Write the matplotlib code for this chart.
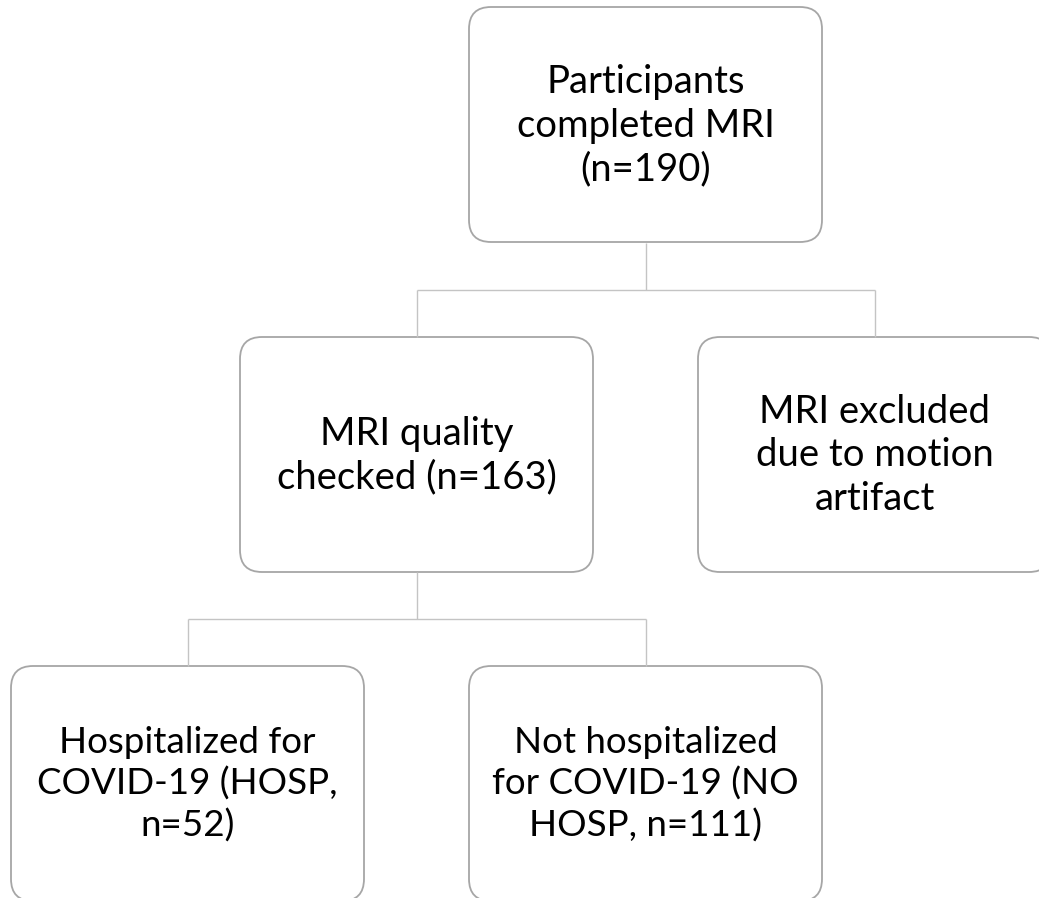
import matplotlib.pyplot as plt
from matplotlib.patches import FancyBboxPatch

# box labels, top to bottom
top_label = "Participants\ncompleted MRI\n(n=190)"
mid_labels = ["MRI quality\nchecked (n=163)",
              "MRI excluded\ndue to motion\nartifact"]
bottom_labels = ["Hospitalized for\nCOVID-19 (HOSP,\nn=52)",
                 "Not hospitalized\nfor COVID-19 (NO\nHOSP, n=111)"]

W, H = 1039, 898
BOX_W, BOX_H = 353, 235
EDGE = "#a6a6a6"
LINE = "#c4c4c4"

fig = plt.figure(figsize=(W / 100, H / 100), dpi=100)
ax = fig.add_axes([0, 0, 1, 1])
ax.set_xlim(0, W)
ax.set_ylim(H, 0)
ax.axis("off")


def box(cx, top, label, size=27):
    p = FancyBboxPatch((cx - BOX_W / 2, top), BOX_W, BOX_H,
                       boxstyle="round,pad=0,rounding_size=22",
                       facecolor="white", edgecolor=EDGE, linewidth=1.3)
    ax.add_patch(p)
    ax.text(cx, top + BOX_H / 2 + 1, label, ha="center", va="center",
            fontsize=size, family="Lato", linespacing=1.27, color="black")


def line(xs, ys):
    ax.plot(xs, ys, color=LINE, linewidth=1.0, solid_capstyle="butt")


# level 1
c1 = 645.5
box(c1, 7, top_label, 27.5)

# level 2
mid_x = [416.5, 874.5]
line([c1, c1], [243, 290])
line([mid_x[0], mid_x[1]], [290, 290])
for x, lab in zip(mid_x, mid_labels):
    line([x, x], [290, 337])
    box(x, 337, lab, 27.5)

# level 3
bot_x = [187.5, 645.5]
line([mid_x[0], mid_x[0]], [572, 619])
line([bot_x[0], bot_x[1]], [619, 619])
for x, lab in zip(bot_x, bottom_labels):
    line([x, x], [619, 666])
    box(x, 666, lab, 26.5)

fig.savefig("out.png", dpi=100, facecolor="white")
